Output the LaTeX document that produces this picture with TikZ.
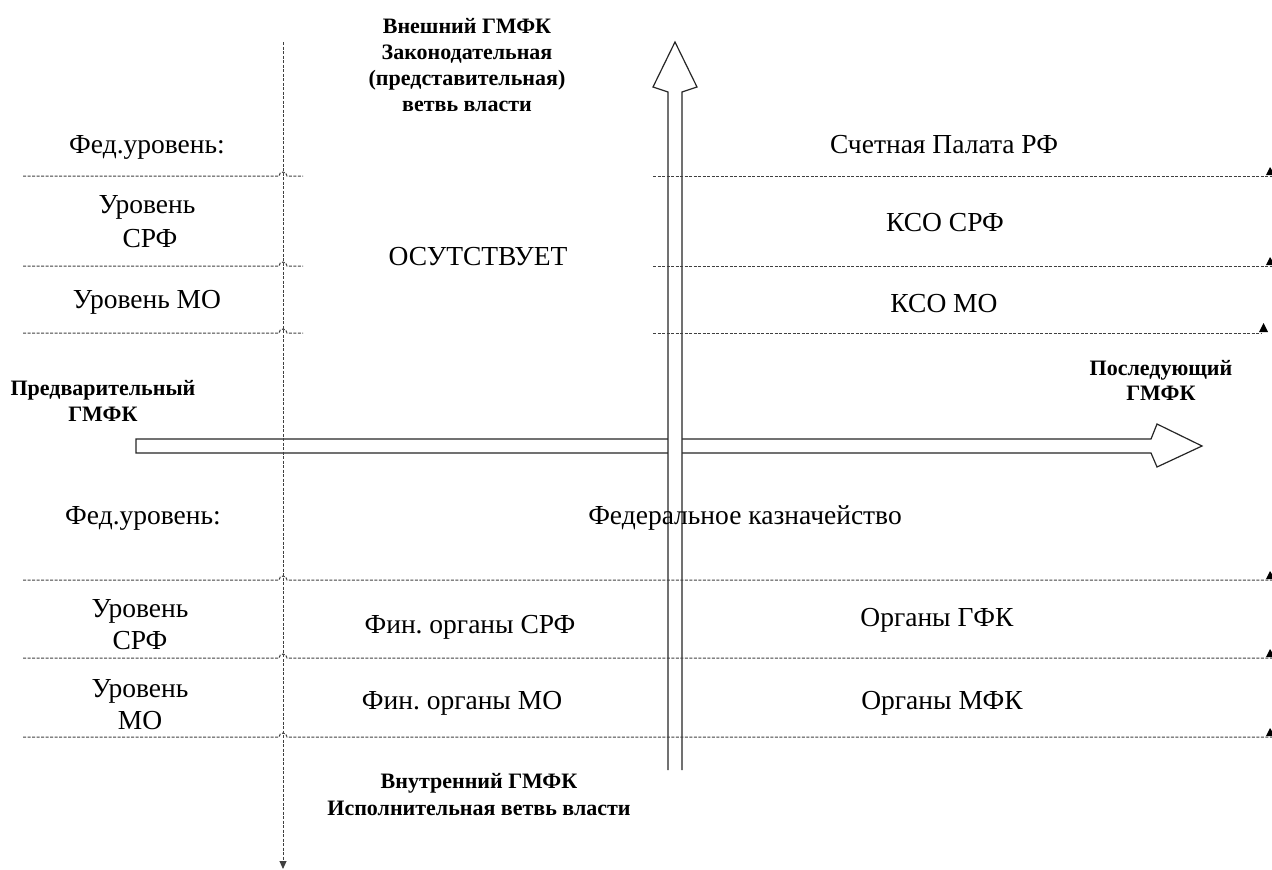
\documentclass[tikz,border=0pt]{standalone}
\usepackage{fontspec}
\setmainfont{Liberation Serif}
\usetikzlibrary{arrows.meta}
\frenchspacing
\begin{document}
\begin{tikzpicture}[x=1pt,y=-1pt,
  reg/.style={font=\fontsize{27.5}{33}\selectfont, anchor=base, inner sep=0pt},
  bld/.style={font=\bfseries\fontsize{22}{25.5}\selectfont, anchor=base, inner sep=0pt},
  dotl/.style={draw=black!75, line width=1pt, dash pattern=on 3pt off 1.5pt},
  bigarrow/.style={draw=black!85, line width=1.2pt, line join=miter},
  tip/.style={fill=black, draw=none}]
\useasboundingbox (0,0) rectangle (1272,870);

% horizontal big arrow
\coordinate (hL) at (136,446);
\coordinate (hT) at (1202,446);
\draw[bigarrow, fill=white] (136,439) -- (1151,439) -- (1157,424) -- (hT) -- (1157,467) -- (1151,453) -- (136,453) -- cycle;

% vertical dotted axis
\coordinate (vTop) at (283,42);
\coordinate (vBot) at (283,869);
\draw[dotl, -{Triangle[length=8pt,width=7pt]}] (vTop) -- (vBot);

% vertical big arrow
\coordinate (aB) at (675,770);
\coordinate (aT) at (675,42);
\fill[white] (668,92) rectangle (682,770);
\draw[bigarrow, fill=white] (668,770) -- (668,92) -- (653,87) -- (aT) -- (697,87) -- (682,92) -- (682,770);

% upper dotted lines (left parts with hops)
\foreach \yy in {176,266,333}{
  \draw[dotl] (23,\yy) -- (279,\yy) arc[start angle=180,end angle=360,radius=4] -- (303,\yy);
}
% upper dotted lines (right parts)
\draw[dotl] (653,176) -- (1272,176);
\draw[dotl] (653,266) -- (1272,266);
\draw[dotl] (653,333) -- (1262,333);
\fill[tip] (1266,175) -- (1275,175) -- (1270,167) -- cycle;
\fill[tip] (1266,265) -- (1275,265) -- (1270,257) -- cycle;
\fill[tip] (1259,332) -- (1268,332) -- (1263.5,323) -- cycle;

% lower dotted lines
\foreach \yy in {580,658,737}{
  \draw[dotl] (23,\yy) -- (279,\yy) arc[start angle=180,end angle=360,radius=4] -- (1272,\yy);
  \fill[tip] (1266,\yy-1) -- (1275,\yy-1) -- (1270,\yy-9) -- cycle;
}

% top bold label
\node[bld] (ext1) at (467,33) {Внешний ГМФК};
\node[bld] (ext2) at (467,59) {Законодательная};
\node[bld] (ext3) at (467,85) {(представительная)};
\node[bld] (ext4) at (467,111) {ветвь власти};

% upper left labels
\node[reg] (uf) at (147,153) {Фед.уровень:};
\node[reg] (us1) at (147,213) {Уровень};
\node[reg] (us2) at (150,247) {СРФ};
\node[reg] (um) at (147,308) {Уровень МО};
\node[reg] (abs) at (478,265) {ОСУТСТВУЕТ};

% upper right labels
\node[reg] (sp) at (944,153) {Счетная Палата РФ};
\node[reg] (ksrf) at (945,231) {КСО СРФ};
\node[reg] (ksmo) at (944,312) {КСО МО};

% axis labels
\node[bld] (pre1) at (103,395) {Предварительный};
\node[bld] (pre2) at (103,421) {ГМФК};
\node[bld] (post1) at (1161,375) {Последующий};
\node[bld] (post2) at (1161,400) {ГМФК};

% lower labels
\node[reg] (lf) at (143,524) {Фед.уровень:};
\node[reg] (fk) at (745,524) {Федеральное казначейство};
\node[reg] (ls1) at (140,617) {Уровень};
\node[reg] (ls2) at (140,649) {СРФ};
\node[reg] (fs) at (470,633) {Фин. органы СРФ};
\node[reg] (gfk) at (937,626) {Органы ГФК};
\node[reg] (lm1) at (140,697) {Уровень};
\node[reg] (lm2) at (140,729) {МО};
\node[reg] (fm) at (462,709) {Фин. органы МО};
\node[reg] (mfk) at (942,709) {Органы МФК};

% bottom bold label
\node[bld] (int1) at (479,788) {Внутренний ГМФК};
\node[bld] (int2) at (479,815) {Исполнительная ветвь власти};
\end{tikzpicture}
\end{document}
